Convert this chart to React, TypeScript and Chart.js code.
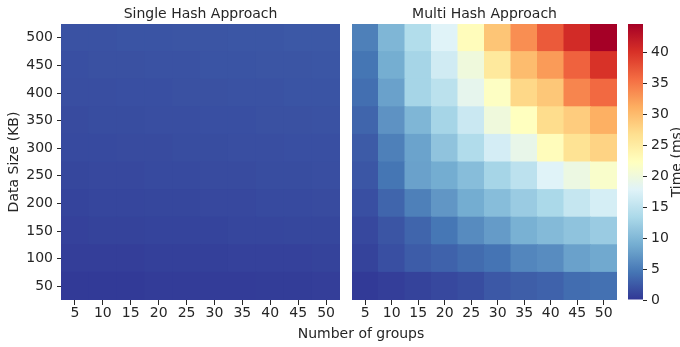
import React, { useEffect, useRef } from 'react';
import { Chart, registerables } from 'chart.js';

Chart.register(...registerables);

// ---------- data ----------
const groups = ['5', '10', '15', '20', '25', '30', '35', '40', '45', '50'];
// rows listed from bottom (50 KB) to top (500 KB)
const dataSizes = ['50', '100', '150', '200', '250', '300', '350', '400', '450', '500'];

const singleHash: number[][] = [
  [0.3, 0.3, 0.3, 0.4, 0.4, 0.4, 0.4, 0.5, 0.5, 0.6],
  [0.6, 0.6, 0.6, 0.7, 0.7, 0.7, 0.8, 0.8, 0.8, 0.9],
  [0.8, 0.9, 0.9, 1.0, 1.0, 1.0, 1.1, 1.1, 1.2, 1.2],
  [1.0, 1.1, 1.1, 1.2, 1.2, 1.3, 1.3, 1.4, 1.4, 1.5],
  [1.2, 1.3, 1.3, 1.4, 1.4, 1.5, 1.5, 1.6, 1.6, 1.7],
  [1.4, 1.4, 1.5, 1.5, 1.6, 1.6, 1.7, 1.7, 1.8, 1.8],
  [1.5, 1.6, 1.6, 1.7, 1.7, 1.8, 1.8, 1.9, 1.9, 2.0],
  [1.7, 1.7, 1.8, 1.8, 1.9, 1.9, 2.0, 2.0, 2.1, 2.1],
  [1.8, 1.9, 1.9, 2.0, 2.0, 2.1, 2.1, 2.2, 2.2, 2.3],
  [2.0, 2.0, 2.1, 2.1, 2.2, 2.2, 2.3, 2.3, 2.4, 2.4],
];

const multiHash: number[][] = [
  [0.3, 0.6, 0.9, 1.3, 1.6, 2.4, 2.8, 3.1, 3.9, 4.2],
  [0.9, 1.8, 2.7, 3.1, 3.8, 4.4, 5.8, 6.3, 8.0, 8.6],
  [1.3, 2.2, 3.3, 4.6, 6.2, 7.5, 9.3, 10.2, 11.1, 12.0],
  [1.8, 3.3, 5.3, 7.1, 8.9, 10.5, 12.0, 13.4, 15.6, 16.9],
  [2.3, 4.5, 8.0, 8.9, 10.5, 13.0, 14.8, 17.8, 19.6, 21.4],
  [2.6, 5.3, 8.1, 11.2, 13.9, 16.8, 19.0, 22.7, 26.4, 27.9],
  [3.3, 6.8, 9.8, 13.0, 16.0, 20.0, 22.3, 27.0, 28.5, 31.0],
  [4.0, 8.0, 13.0, 14.7, 18.7, 22.0, 27.5, 29.0, 34.0, 36.0],
  [4.5, 9.0, 13.0, 16.5, 20.0, 25.5, 30.0, 32.5, 36.5, 40.0],
  [5.3, 9.8, 14.0, 17.8, 22.7, 29.2, 33.4, 37.1, 40.6, 44.6],
];

const colorbarTicks = [0, 5, 10, 15, 20, 25, 30, 35, 40];
const V_MIN = 0;
const V_MAX = 44.6;

// ---------- colour map (RdYlBu reversed) ----------
const RDYLBU_R = [
  '#313695', '#4575b4', '#74add1', '#abd9e9', '#e0f3f8', '#ffffbf',
  '#fee090', '#fdae61', '#f46d43', '#d73027', '#a50026',
];

function hexToRgb(h: string): number[] {
  return [1, 3, 5].map((i) => parseInt(h.slice(i, i + 2), 16));
}

function cmapAt(t: number): string {
  const tt = Math.min(1, Math.max(0, t)) * 10;
  const i = Math.min(9, Math.floor(tt));
  const f = tt - i;
  const a = hexToRgb(RDYLBU_R[i]);
  const b = hexToRgb(RDYLBU_R[i + 1]);
  const c = a.map((v, k) => Math.round(v + (b[k] - v) * f));
  return `rgb(${c[0]},${c[1]},${c[2]})`;
}

function cmap(v: number): string {
  return cmapAt((v - V_MIN) / (V_MAX - V_MIN));
}

// ---------- common styling ----------
const FONT = 'DejaVu Sans';
const TEXT = '#262626';
const W = 680;
const H = 347;

Chart.defaults.font.family = FONT;
Chart.defaults.font.size = 14;
Chart.defaults.color = TEXT;

function textPlugin(id: string, draw: (ctx: CanvasRenderingContext2D, chart: any) => void) {
  return {
    id,
    afterDraw(chart: any) {
      const ctx = chart.ctx as CanvasRenderingContext2D;
      ctx.save();
      ctx.fillStyle = TEXT;
      ctx.font = `14px "${FONT}"`;
      draw(ctx, chart);
      ctx.restore();
    },
  };
}

function heatmapConfig(values: number[][], title: string, showY: boolean, padding: any, extraText?: (ctx: CanvasRenderingContext2D) => void) {
  return {
    type: 'bar',
    data: {
      labels: groups,
      datasets: dataSizes.map((ds, r) => ({
        label: ds,
        data: values[r].map(() => [r, r + 1]),
        backgroundColor: values[r].map((v) => cmap(v)),
        borderWidth: 0,
        inflateAmount: 0.5,
        barPercentage: 1,
        categoryPercentage: 1,
        grouped: false,
      })),
    },
    options: {
      responsive: false,
      animation: false,
      devicePixelRatio: 1,
      layout: { padding },
      plugins: { legend: { display: false }, tooltip: { enabled: false }, title: { display: false } },
      scales: {
        x: {
          type: 'category',
          offset: true,
          grid: { display: true, offset: false, drawOnChartArea: false, drawTicks: true, tickLength: 5, color: TEXT, lineWidth: 1 },
          border: { display: false },
          ticks: { padding: 0, maxRotation: 0, autoSkip: false, color: TEXT, font: { size: 14 } },
          afterFit: (s: any) => { s.height = 47; },
        },
        y: {
          type: 'linear',
          display: showY,
          min: 0,
          max: dataSizes.length,
          grid: { display: true, drawOnChartArea: false, drawTicks: true, tickLength: 4, color: TEXT, lineWidth: 1 },
          border: { display: false },
          afterBuildTicks: (s: any) => { s.ticks = dataSizes.map((_, i) => ({ value: i + 0.5 })); },
          ticks: {
            padding: 4,
            color: TEXT,
            font: { size: 14 },
            callback: (_v: any, i: number) => dataSizes[i],
          },
          title: { display: true, text: 'Data Size (KB)', color: TEXT, font: { size: 14 }, padding: { top: 6, bottom: 0 } },
          afterFit: (s: any) => { s.width = showY ? 61 : 0; },
        },
      },
    },
    plugins: [
      textPlugin('panelTitle' + title.length, (ctx, chart) => {
        const a = chart.chartArea;
        ctx.textAlign = 'center';
        ctx.textBaseline = 'alphabetic';
        ctx.fillText(title, (a.left + a.right) / 2, 17.6);
        if (extraText) extraText(ctx);
      }),
    ],
  };
}

function colorbarConfig() {
  return {
    type: 'bar',
    data: {
      labels: [''],
      datasets: [
        {
          label: 'Time (ms)',
          data: [[V_MIN, V_MAX]],
          backgroundColor: (c: any) => {
            const chart = c.chart;
            const { ctx, chartArea, scales } = chart;
            if (!chartArea) return RDYLBU_R[0];
            const y0 = scales.y.getPixelForValue(V_MIN);
            const y1 = scales.y.getPixelForValue(V_MAX);
            const g = ctx.createLinearGradient(0, y0, 0, y1);
            for (let k = 0; k <= 50; k++) g.addColorStop(k / 50, cmapAt(k / 50));
            return g;
          },
          borderWidth: 0,
          inflateAmount: 0,
          barPercentage: 1,
          categoryPercentage: 1,
        },
      ],
    },
    options: {
      responsive: false,
      animation: false,
      devicePixelRatio: 1,
      layout: { padding: { left: 628, top: 24, right: 0, bottom: 47 } },
      plugins: { legend: { display: false }, tooltip: { enabled: false } },
      scales: {
        x: { type: 'category', display: false, offset: true },
        y: {
          type: 'linear',
          position: 'right',
          min: V_MIN,
          max: V_MAX,
          grid: { display: true, drawOnChartArea: false, drawTicks: true, tickLength: 4, color: TEXT, lineWidth: 1 },
          border: { display: false },
          afterBuildTicks: (s: any) => { s.ticks = colorbarTicks.map((v) => ({ value: v })); },
          ticks: { padding: 4, color: TEXT, font: { size: 14 } },
          afterFit: (s: any) => { s.width = 37; },
        },
      },
    },
    plugins: [
      textPlugin('cbLabel', (ctx, chart) => {
        const a = chart.chartArea;
        ctx.translate(680.5, (a.top + a.bottom) / 2);
        ctx.rotate(-Math.PI / 2);
        ctx.textAlign = 'center';
        ctx.textBaseline = 'alphabetic';
        ctx.fillText('Time (ms)', 0, 0);
      }),
    ],
  };
}

function ChartCanvas({ makeConfig }: { makeConfig: () => any }) {
  const ref = useRef<HTMLCanvasElement | null>(null);
  useEffect(() => {
    if (!ref.current) return;
    const chart = new Chart(ref.current, makeConfig());
    return () => chart.destroy();
  }, []);
  return (
    <canvas
      ref={ref}
      width={W}
      height={H}
      style={{ position: 'absolute', left: 0, top: 0, width: W, height: H }}
    />
  );
}

export default function App() {
  return (
    <div style={{ position: 'fixed', left: 0, top: 0, width: W, height: H, background: '#ffffff', overflow: 'hidden' }}>
      <ChartCanvas
        makeConfig={() =>
          heatmapConfig(singleHash, 'Single Hash Approach', true, { left: 0, top: 24, right: 340, bottom: 0 })
        }
      />
      <ChartCanvas
        makeConfig={() =>
          heatmapConfig(multiHash, 'Multi Hash Approach', false, { left: 352, top: 24, right: 63, bottom: 0 }, (ctx) => {
            ctx.textAlign = 'center';
            ctx.textBaseline = 'alphabetic';
            ctx.fillText('Number of groups', 361, 338);
          })
        }
      />
      <ChartCanvas makeConfig={colorbarConfig} />
    </div>
  );
}
